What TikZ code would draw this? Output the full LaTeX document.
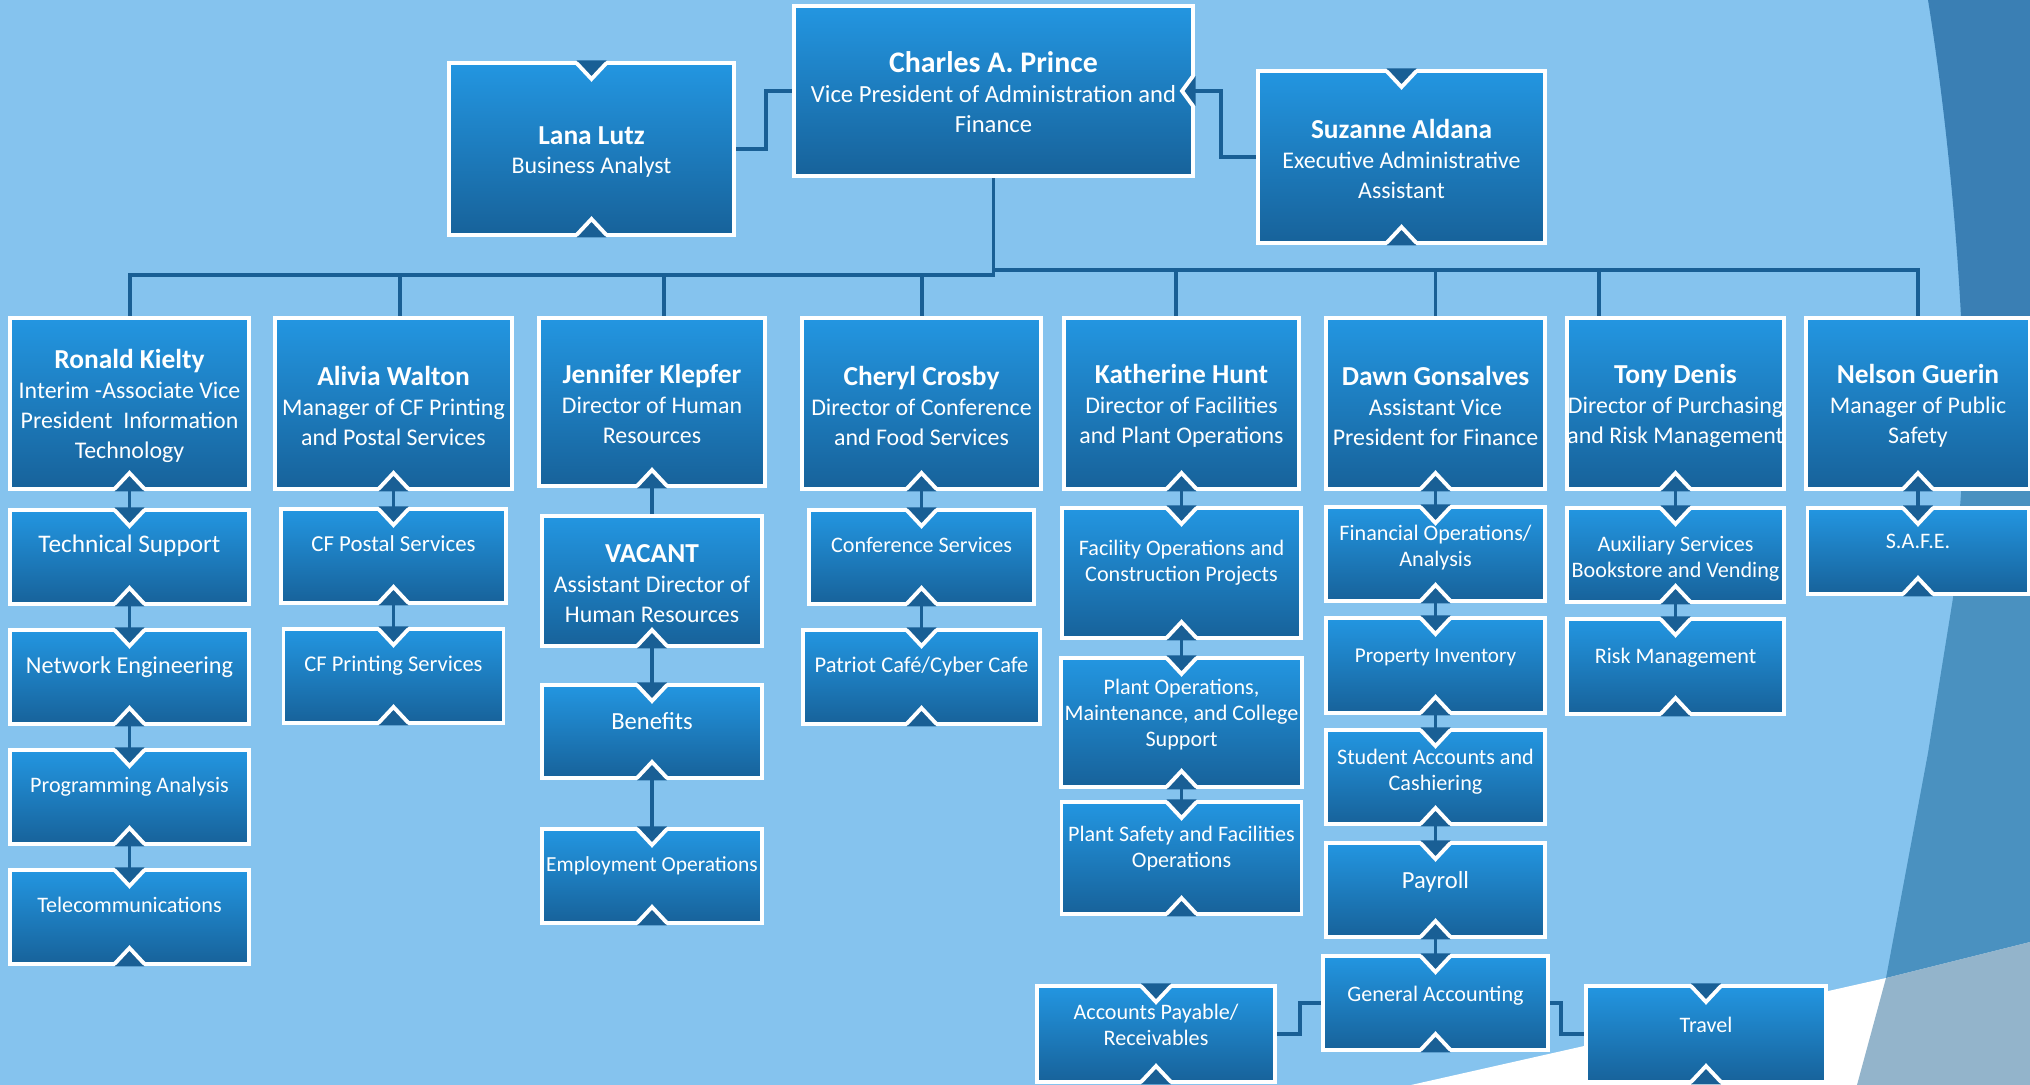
\documentclass[tikz,border=0pt]{standalone}
\usepackage{fontspec}
\setmainfont{Carlito}
\usetikzlibrary{positioning,calc}

\definecolor{sky}{RGB}{133,195,238}
\definecolor{deep}{RGB}{58,127,180}
\definecolor{mid}{RGB}{74,145,192}
\definecolor{haze}{RGB}{147,180,203}
\definecolor{boxtop}{RGB}{35,150,225}
\definecolor{boxbot}{RGB}{23,98,154}
\definecolor{linkc}{RGB}{25,95,149}

\pgfdeclarelayer{backdrop}
\pgfdeclarelayer{wires}
\pgfsetlayers{backdrop,wires,main}

\newcommand{\txtsize}[1]{\fontsize{#1}{7.4}\selectfont}
\newcommand{\who}[2][7.8]{{\fontsize{#1}{8.5}\selectfont\bfseries\rule{0pt}{6.8pt}#2}}

\tikzset{%
  unit/.style={rectangle, draw=white, line width=1.1pt, top color=boxtop, bottom color=boxbot,
    text=white, align=center, inner xsep=0pt, inner ysep=1pt, outer sep=0pt},
  head/.style={unit, minimum height=17.1mm, font=\fontsize{6.8}{8.5}\selectfont},
  sub/.style={unit, minimum height=9.4mm, text depth=2.4mm, font=\txtsize{6.3}}, % text sits above the middle
  link/.style={draw=linkc, line width=1.1pt, line cap=rect}
}

% V cut into the top edge, ^ cut into the bottom edge
\newcommand{\topnotch}[1]{%
  \fill[linkc] ($(#1.north)+(-15,-2.5)$) -- ($(#1.north)+(15,-2.5)$) -- ($(#1.north)+(0,16)$) -- cycle;
  \draw[white, line width=1.1pt] ($(#1.north)+(-15,0)$) -- ($(#1.north)+(0,16)$) -- ($(#1.north)+(15,0)$);}
\newcommand{\botnotch}[1]{%
  \fill[linkc] ($(#1.south)+(-15,2.5)$) -- ($(#1.south)+(15,2.5)$) -- ($(#1.south)+(0,-16)$) -- cycle;
  \draw[white, line width=1.1pt] ($(#1.south)+(-15,0)$) -- ($(#1.south)+(0,-16)$) -- ($(#1.south)+(15,0)$);}

\begin{document}
\begin{tikzpicture}[x=0.1mm, y=-0.1mm] % one unit = one pixel, y runs down
  \useasboundingbox (0,0) rectangle (2030,1085);

  \begin{pgfonlayer}{backdrop}
    \fill[sky] (0,0) rectangle (2030,1085);
    \fill[white] (1411,1085) -- (1886,978) -- (2030,942) -- (2030,1085) -- cycle;
    \fill[deep] (1928,0) .. controls (1952,150) and (1966,330) .. (1964,455) -- (2030,455) -- (2030,0) -- cycle;
    \fill[mid] (1964,455) -- (1953,598) -- (1928,753) -- (1886,978) -- (2030,942) -- (2030,455) -- cycle;
    \fill[haze] (1886,978) -- (1857,1085) -- (2030,1085) -- (2030,942) -- cycle;
  \end{pgfonlayer}

  % top row
  \node[head, minimum width=28.5mm, minimum height=17.2mm] (lana) at (591.5,149) {\who{Lana Lutz}\\Business Analyst};
  \node[head, minimum width=39.9mm, minimum height=17mm, font=\fontsize{7}{8.5}\selectfont] (charles) at (993.5,91) {\who[8.5]{Charles A. Prince}\\Vice President of Administration and\\Finance};
  \node[head, minimum width=28.7mm, minimum height=17.2mm] (suzanne) at (1401.5,157) {\who{Suzanne Aldana}\\Executive Administrative\\Assistant};

  % directors
  \node[head, minimum width=23.9mm] (ronald) at (129.5,403.5) {\who{Ronald Kielty}\\Interim -Associate Vice\\President~ Information\\Technology};
  \node[head, minimum width=23.7mm] (alivia) at (393.5,403.5) {\who{Alivia Walton}\\Manager of CF Printing\\and Postal Services};
  \node[head, minimum width=22.6mm, minimum height=16.8mm] (jennifer) at (652,402) {\who{Jennifer Klepfer}\\Director of Human\\Resources};
  \node[head, minimum width=23.9mm] (cheryl) at (921.5,403.5) {\who{Cheryl Crosby}\\Director of Conference\\and Food Services};
  \node[head, minimum width=23.5mm] (katherine) at (1181.5,403.5) {\who{Katherine Hunt}\\Director of Facilities\\and Plant Operations};
  \node[head, minimum width=21.9mm] (dawn) at (1435.5,403.5) {\who{Dawn Gonsalves}\\Assistant Vice\\President for Finance};
  \node[head, minimum width=21.7mm] (tony) at (1675.5,403.5) {\who{Tony Denis}\\Director of Purchasing\\and Risk Management};
  \node[head, minimum width=22.4mm] (nelson) at (1918,403.5) {\who{Nelson Guerin}\\Manager of Public\\Safety};

  % units
  \node[sub, minimum width=23.9mm, below=2.1mm of ronald, font=\txtsize{7.2}, text depth=2.6mm] (tech) {Technical Support};
  \node[sub, minimum width=23.9mm, below=2.6mm of tech, font=\txtsize{6.9}] (neteng) {Network Engineering};
  \node[sub, minimum width=23.9mm, below=2.6mm of neteng] (progana) {Programming Analysis};
  \node[sub, minimum width=23.9mm, below=2.6mm of progana] (telecom) {Telecommunications};

  \node[sub, minimum width=22.5mm, below=2.0mm of alivia, font=\txtsize{6.5}] (cfpostal) {CF Postal Services};
  \node[sub, minimum width=22mm, below=2.6mm of cfpostal, font=\txtsize{6.4}] (cfprint) {CF Printing Services};

  \node[unit, minimum width=22mm, minimum height=13mm, below=3.0mm of jennifer, font=\fontsize{6.8}{8.5}\selectfont] (vacant) {\who{VACANT}\\Assistant Director of\\Human Resources};
  \node[sub, minimum width=22mm, minimum height=9.3mm, below=3.9mm of vacant, font=\txtsize{7}, text depth=2.15mm] (benefits) {Benefits};
  \node[sub, minimum width=22mm, below=5.1mm of benefits, font=\txtsize{6.1}] (employ) {Employment Operations};

  \node[sub, minimum width=22.5mm, below=2.1mm of cheryl] (confserv) {Conference Services};
  \node[sub, minimum width=23.7mm, below=2.6mm of confserv, font=\txtsize{6.4}] (patriot) {Patriot Café/Cyber Cafe};

  \node[sub, minimum width=23.9mm, minimum height=13mm, below=1.9mm of katherine] (facility) {Facility Operations and\\Construction Projects};
  \node[sub, minimum width=24.1mm, minimum height=12.9mm, below=2.0mm of facility, text depth=2.0mm] (plantops) {Plant Operations,\\Maintenance, and College\\Support};
  \node[sub, minimum width=24mm, minimum height=11.2mm, below=1.5mm of plantops, text depth=2.2mm] (plantsafe) {Plant Safety and Facilities\\Operations};

  \node[sub, minimum width=21.9mm, below=1.8mm of dawn, text depth=1.7mm] (finops) {Financial Operations/\\Analysis};
  \node[sub, minimum width=21.9mm, minimum height=9.5mm, below=1.7mm of finops, font=\txtsize{6}, text depth=2.0mm] (property) {Property Inventory};
  \node[sub, minimum width=21.9mm, below=1.7mm of property, text depth=1.4mm] (student) {Student Accounts and\\Cashiering};
  \node[sub, minimum width=21.9mm, below=1.9mm of student, font=\txtsize{7}, text depth=2.1mm] (payroll) {Payroll};
  \node[sub, minimum width=22.5mm, below=1.9mm of payroll, text depth=1.85mm] (genacct) {General Accounting};
  \node[sub, minimum width=23.8mm, minimum height=9.6mm, left=4.8mm of genacct, yshift=-3.1mm, text depth=1.85mm] (acctpay) {Accounts Payable/\\Receivables};
  \node[sub, minimum width=24mm, minimum height=9.6mm, right=3.8mm of genacct, yshift=-3.1mm, text depth=1.85mm] (travel) {Travel};

  \node[sub, minimum width=21.7mm, below=1.9mm of tony, text depth=0.2mm] (auxil) {\rule{0pt}{6pt}Auxiliary Services\\Bookstore and Vending};
  \node[sub, minimum width=21.7mm, minimum height=9.5mm, below=1.7mm of auxil, text depth=2.2mm] (risk) {Risk Management};

  \node[sub, minimum width=22.1mm, minimum height=8.6mm, below=1.9mm of nelson, text depth=2.0mm] (safe) {S.A.F.E.};

  % connectors
  \begin{pgfonlayer}{wires}
    \coordinate (hubL) at (993.5,275);
    \coordinate (hubR) at (993.5,270);
    \draw[link] (charles.south) -- (hubL);
    \foreach \n/\dx in {ronald/0.5, alivia/6.5, jennifer/12, cheryl/0.5}
      \draw[link] (hubL) -| ($(\n.north)+(\dx,0)$);
    \foreach \n/\dx in {katherine/-5.5, dawn/0, tony/-76.5, nelson/0}
      \draw[link] (hubR) -| ($(\n.north)+(\dx,0)$);
    \draw[link] (lana.east) -- ++(32,0) |- (charles.west);
    \draw[link] (suzanne.west) -- ++(-37,0) |- (charles.east);
    \foreach \a/\b in {ronald/tech, tech/neteng, neteng/progana, progana/telecom,
        alivia/cfpostal, cfpostal/cfprint, jennifer/vacant, vacant/benefits, benefits/employ,
        cheryl/confserv, confserv/patriot, katherine/facility, facility/plantops, plantops/plantsafe,
        dawn/finops, finops/property, property/student, student/payroll, payroll/genacct,
        tony/auxil, auxil/risk, nelson/safe}
      \draw[link] (\a.south) -- (\b.north);
    \draw[link] (genacct.west) -- ++(-23,0) |- (acctpay.east);
    \draw[link] (genacct.east) -- ++(13,0) |- (travel.west);
  \end{pgfonlayer}

  % notches
  \foreach \n in {lana, suzanne, tech, neteng, progana, telecom, cfpostal, cfprint, benefits, employ,
      confserv, patriot, facility, plantops, plantsafe, finops, property, student, payroll, genacct,
      acctpay, travel, auxil, risk, safe}
    {\topnotch{\n}}
  \foreach \n in {lana, suzanne, ronald, alivia, jennifer, cheryl, katherine, dawn, tony, nelson,
      tech, neteng, progana, telecom, cfpostal, cfprint, vacant, benefits, employ, confserv, patriot,
      facility, plantops, plantsafe, finops, property, student, payroll, genacct, acctpay, travel,
      auxil, risk, safe}
    {\botnotch{\n}}
  \fill[linkc] ($(charles.east)+(2.5,-15)$) -- ($(charles.east)+(2.5,15)$) -- ($(charles.east)+(-11,0)$) -- cycle;
  \draw[white, line width=1.1pt] ($(charles.east)+(0,-15)$) -- ($(charles.east)+(-11,0)$) -- ($(charles.east)+(0,15)$);
\end{tikzpicture}
\end{document}
